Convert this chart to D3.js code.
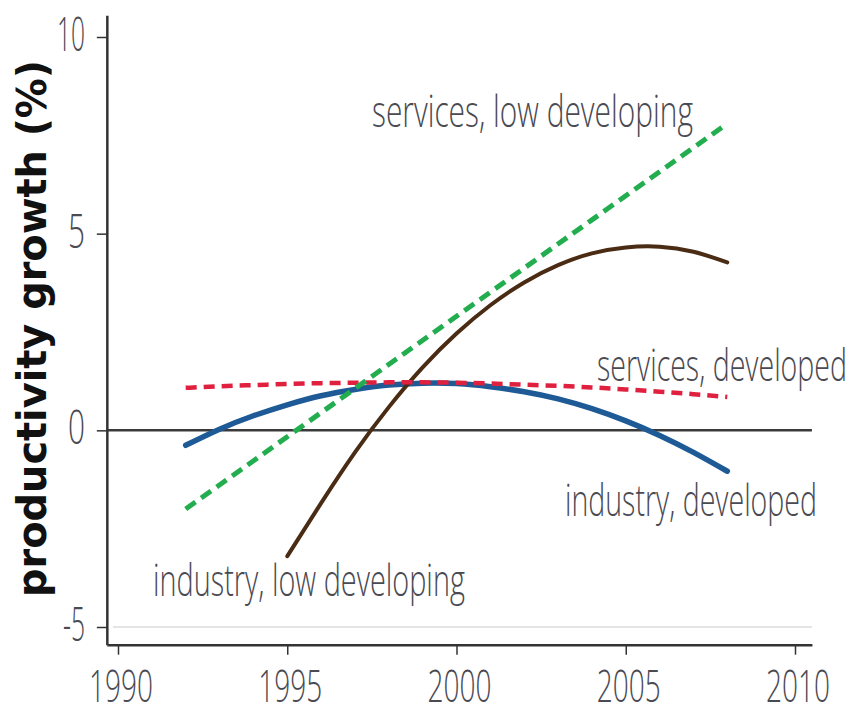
<!DOCTYPE html>
<html>
<head>
<meta charset="utf-8">
<script src="https://cdn.jsdelivr.net/npm/d3@7"></script>
<style>
  html, body { margin: 0; padding: 0; background: #fff; }
  svg { display: block; }
</style>
</head>
<body>
<svg id="chart" width="854" height="715"></svg>
<script>
// ---- data ----
const xTicks = [1990, 1995, 2000, 2005, 2010];
const yTicks = [-5, 0, 5, 10];
const yTickLabels = ["-5", "0", "5", "10"];
const yTitle = "productivity growth (%)";

const yearsDeveloped = [1992,1993,1994,1995,1996,1997,1998,1999,2000,2001,2002,2003,2004,2005,2006,2007,2008];
const industryDeveloped = [-0.38,0.03,0.37,0.65,0.88,1.04,1.15,1.20,1.19,1.11,0.98,0.80,0.55,0.24,-0.13,-0.56,-1.04];
const servicesDeveloped = [1.08,1.12,1.15,1.18,1.20,1.21,1.22,1.22,1.21,1.19,1.16,1.13,1.09,1.04,0.98,0.92,0.85];

const yearsServicesLow = [1992, 1996, 2000, 2004, 2008];
const servicesLowDeveloping = [-2.0, 0.45, 2.9, 5.35, 7.8];

const yearsIndustryLow = [1995,1996,1997,1998,1999,2000,2001,2002,2003,2004,2005,2006,2007,2008];
const industryLowDeveloping = [-3.2,-1.85,-0.56,0.59,1.60,2.46,3.18,3.76,4.20,4.50,4.65,4.67,4.54,4.27];

const labels = [
  {text: "services, low developing", x: 372, y: 127, len: 321},
  {text: "services, developed",      x: 597, y: 381, len: 250},
  {text: "industry, developed",      x: 565, y: 516, len: 252},
  {text: "industry, low developing", x: 153, y: 596, len: 312}
];

// ---- drawing ----
const svg = d3.select("#chart");
const x = d3.scaleLinear().domain([1990, 2010]).range([118, 795]);
const y = d3.scaleLinear().domain([-5, 10]).range([627, 37]);

const axisColor = "#333";
const textColor = "#4a4a52";
const tickFont = "'Open Sans', 'DejaVu Sans', sans-serif";

// helper: place text so that its drawn width equals `len` (horizontal squeeze)
function squeezed(sel, opts) {
  const t = sel.append("text")
    .attr("font-family", opts.family).attr("font-weight", opts.weight)
    .attr("font-size", opts.size).attr("fill", opts.fill)
    .attr("text-anchor", opts.anchor || "start")
    .text(opts.text);
  const natural = t.node().getComputedTextLength() || opts.len;
  const sx = opts.len / natural;
  t.attr("transform", `translate(${opts.x},${opts.y}) ${opts.rotate ? "rotate(" + opts.rotate + ")" : ""} scale(${sx},1)`);
  return t;
}

// faint line at -5
svg.append("line")
  .attr("x1", 113).attr("x2", x(2010.5))
  .attr("y1", y(-5)).attr("y2", y(-5))
  .attr("stroke", "#e4e4e4").attr("stroke-width", 2);

// zero line
svg.append("line")
  .attr("x1", x(1989.67)).attr("x2", x(2010.5))
  .attr("y1", y(0)).attr("y2", y(0))
  .attr("stroke", "#3a3a3a").attr("stroke-width", 2.5);

// y axis
const yAxisScale = d3.scaleLinear().domain([-5.45, 10.55]).range([y(-5.45), y(10.55)]);
const gy = svg.append("g").attr("transform", `translate(${x(1989.67)},0)`)
  .call(d3.axisLeft(yAxisScale).tickValues(yTicks).tickSize(10).tickSizeOuter(0).tickFormat(""));
gy.select(".domain").attr("stroke", axisColor).attr("stroke-width", 2.5);
gy.selectAll(".tick line").attr("stroke", axisColor).attr("stroke-width", 1.5);

// y tick labels
const gyl = svg.append("g");
yTicks.forEach((d, i) => {
  const lab = yTickLabels[i];
  squeezed(gyl, {text: lab, x: 85, y: y(d) + 14, anchor: "end",
    family: tickFont, weight: 300, size: 48, fill: textColor,
    len: lab.length === 1 ? 17 : (lab === "10" ? 28 : 22)});
});

// x axis
const xAxisScale = d3.scaleLinear().domain([1989.67, 2010.5]).range([x(1989.67), x(2010.5)]);
const gx = svg.append("g").attr("transform", `translate(0,${y(-5.45)})`)
  .call(d3.axisBottom(xAxisScale).tickValues(xTicks).tickSize(10).tickSizeOuter(0).tickFormat(""));
gx.select(".domain").attr("stroke", axisColor).attr("stroke-width", 2.5);
gx.selectAll(".tick line").attr("stroke", axisColor).attr("stroke-width", 1.5);

const gxl = svg.append("g");
xTicks.forEach(d => {
  squeezed(gxl, {text: String(d), x: x(d) + 3, y: 702, anchor: "middle",
    family: tickFont, weight: 300, size: 45, fill: textColor, len: 64});
});

// y title
squeezed(svg, {text: yTitle, x: 46, y: (60 + 597) / 2, rotate: -90, anchor: "middle",
  family: "'DejaVu Sans', sans-serif", weight: "bold", size: 40, fill: "#111", len: 537});

// lines
const lineGen = d3.line().x(d => x(d[0])).y(d => y(d[1])).curve(d3.curveNatural);
const zip = (a, b) => a.map((v, i) => [v, b[i]]);

svg.append("path").datum(zip(yearsDeveloped, industryDeveloped))
  .attr("d", lineGen).attr("fill", "none")
  .attr("stroke", "#1d5a96").attr("stroke-width", 5.5).attr("stroke-linecap", "round");

svg.append("path").datum(zip(yearsIndustryLow, industryLowDeveloping))
  .attr("d", lineGen).attr("fill", "none")
  .attr("stroke", "#4a2b14").attr("stroke-width", 4).attr("stroke-linecap", "round");

svg.append("path").datum(zip(yearsDeveloped, servicesDeveloped))
  .attr("d", lineGen).attr("fill", "none")
  .attr("stroke", "#e0203f").attr("stroke-width", 4.5).attr("stroke-dasharray", "11,7");

svg.append("path").datum(zip(yearsServicesLow, servicesLowDeveloping))
  .attr("d", d3.line().x(d => x(d[0])).y(d => y(d[1]))).attr("fill", "none")
  .attr("stroke", "#22ad4e").attr("stroke-width", 5).attr("stroke-dasharray", "12,7");

// annotations
const gl = svg.append("g");
labels.forEach(d => {
  squeezed(gl, {text: d.text, x: d.x, y: d.y, family: tickFont, weight: 300,
    size: 44, fill: textColor, len: d.len});
});
</script>
</body>
</html>
